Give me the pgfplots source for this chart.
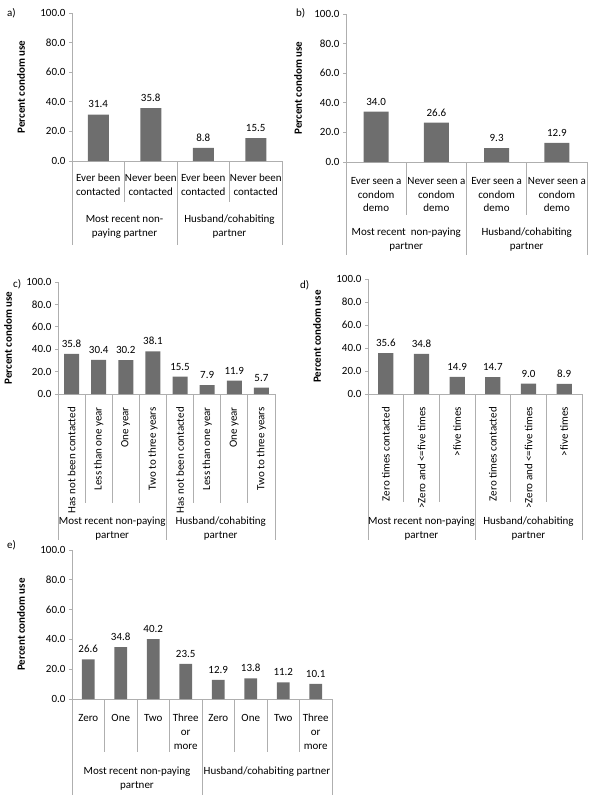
\documentclass[border=0pt]{standalone}
\usepackage{fontspec}
\setmainfont{Carlito}
\usepackage{pgfplots}
\pgfplotsset{compat=1.18}
\definecolor{barcol}{RGB}{110,110,110}
\definecolor{axcol}{RGB}{175,175,175}
\newcommand{\lf}{\fontsize{11}{13.8}\selectfont}
\pgfplotsset{
  panel/.style={
    scale only axis, anchor=south west, ybar, clip=false,
    ymin=0, ymax=100, ytick={0,20,40,60,80,100},
    axis x line*=bottom, axis y line*=left,
    axis line style={draw=axcol, line width=0.8pt},
    tick align=outside, major tick length=3pt,
    ytick style={draw=axcol, line width=0.8pt},
    xtick style={draw=none},
    /pgf/number format/assume math mode=true,
    yticklabel style={font=\lf, /pgf/number format/fixed, /pgf/number format/fixed zerofill, /pgf/number format/precision=1},
    xticklabel style={font=\lf},
    nodes near coords={\pgfmathprintnumber[fixed,fixed zerofill,precision=1,assume math mode=true]{\pgfplotspointmeta}},
    every node near coord/.append style={font=\lf, yshift=3pt},
    ylabel={Percent condom use},
    every axis y label/.style={at={(axis description cs:0,0.5)}, rotate=90, anchor=center, font=\bfseries\lf},
  },
}
\tikzset{
  sep/.style={draw=axcol, line width=0.8pt},
  lvl2/.style={anchor=north, align=center, inner sep=0pt, font=\lf},
}
\begin{document}
\begin{tikzpicture}
\useasboundingbox (0,0) rectangle (600pt,-800pt);
% panel labels
\node[anchor=west, inner sep=0pt, font=\lf] at (7pt,-13pt) {a)};
\node[anchor=west, inner sep=0pt, font=\lf] at (296pt,-13pt) {b)};
\node[anchor=west, inner sep=0pt, font=\lf] at (13pt,-284pt) {c)};
\node[anchor=west, inner sep=0pt, font=\lf] at (300pt,-285pt) {d)};
\node[anchor=west, inner sep=0pt, font=\lf] at (7pt,-545pt) {e)};

% ---------- a ----------
\begin{axis}[panel, at={(72pt,-161pt)}, width=210pt, height=148pt, bar width=21pt,
  xmin=-0.5, xmax=3.5, xtick={0,1,2,3},
  xticklabels={Ever been\\contacted, Never been\\contacted, Ever been\\contacted, Never been\\contacted},
  xticklabel style={align=center, anchor=north, inner sep=0pt}, xticklabel shift=10pt,
  ylabel style={yshift=51pt}]
\addplot[fill=barcol, draw=none] coordinates {(0,31.4) (1,35.8) (2,8.8) (3,15.5)};
\pgfplotsinvokeforeach{0.5,2.5}{\draw[sep] (axis cs:#1,0) -- ++(0pt,-41pt);}
\pgfplotsinvokeforeach{-0.5,1.5,3.5}{\draw[sep] (axis cs:#1,0) -- ++(0pt,-84pt);}
\node[lvl2, yshift=-54pt] at (axis cs:0.5,0) {Most recent non-\\paying partner};
\node[lvl2, yshift=-54pt] at (axis cs:2.5,0) {Husband/cohabiting\\partner};
\end{axis}

% ---------- b ----------
\begin{axis}[panel, at={(346pt,-162pt)}, width=241pt, height=148pt, bar width=25pt,
  xmin=-0.5, xmax=3.5, xtick={0,1,2,3},
  xticklabels={Ever seen a\\condom\\demo, Never seen a\\condom\\demo, Ever seen a\\condom\\demo, Never seen a\\condom\\demo},
  xticklabel style={align=center, anchor=north, inner sep=0pt}, xticklabel shift=12pt,
  ylabel style={yshift=48pt}]
\addplot[fill=barcol, draw=none] coordinates {(0,34.0) (1,26.6) (2,9.3) (3,12.9)};
\pgfplotsinvokeforeach{0.5,2.5}{\draw[sep] (axis cs:#1,0) -- ++(0pt,-53pt);}
\pgfplotsinvokeforeach{-0.5,1.5,3.5}{\draw[sep] (axis cs:#1,0) -- ++(0pt,-93pt);}
\node[lvl2, yshift=-66pt] at (axis cs:0.5,0) {Most recent\ \ non-paying\\partner};
\node[lvl2, yshift=-66pt] at (axis cs:2.5,0) {Husband/cohabiting\\partner};
\end{axis}

% ---------- c ----------
\begin{axis}[panel, at={(58pt,-394pt)}, width=217pt, height=112pt, bar width=15pt,
  xmin=-0.5, xmax=7.5, xtick={0,1,...,7},
  xticklabels={Has not been contacted, Less than one year, One year, Two to three years, Has not been contacted, Less than one year, One year, Two to three years},
  xticklabel style={rotate=90, anchor=east, inner sep=0pt}, xticklabel shift=10pt,
  ylabel style={yshift=50pt}]
\addplot[fill=barcol, draw=none] coordinates {(0,35.8) (1,30.4) (2,30.2) (3,38.1) (4,15.5) (5,7.9) (6,11.9) (7,5.7)};
\pgfplotsinvokeforeach{0.5,1.5,2.5,4.5,5.5,6.5}{\draw[sep] (axis cs:#1,0) -- ++(0pt,-109pt);}
\pgfplotsinvokeforeach{-0.5,3.5,7.5}{\draw[sep] (axis cs:#1,0) -- ++(0pt,-146pt);}
\node[lvl2, yshift=-123pt] at (axis cs:1.5,0) {Most recent non-paying\\partner};
\node[lvl2, yshift=-123pt] at (axis cs:5.5,0) {Husband/cohabiting\\partner};
\end{axis}

% ---------- d ----------
\begin{axis}[panel, at={(368pt,-394pt)}, width=214pt, height=115pt, bar width=15.3pt,
  xmin=-0.5, xmax=5.5, xtick={0,1,...,5},
  xticklabels={Zero times contacted, >Zero and <=five times, >five times, Zero times contacted, >Zero and <=five times, >five times},
  xticklabel style={rotate=90, anchor=east, inner sep=0pt}, xticklabel shift=10pt,
  ylabel style={yshift=51pt}]
\addplot[fill=barcol, draw=none] coordinates {(0,35.6) (1,34.8) (2,14.9) (3,14.7) (4,9.0) (5,8.9)};
\pgfplotsinvokeforeach{0.5,1.5,3.5,4.5}{\draw[sep] (axis cs:#1,0) -- ++(0pt,-108pt);}
\pgfplotsinvokeforeach{-0.5,2.5,5.5}{\draw[sep] (axis cs:#1,0) -- ++(0pt,-146pt);}
\node[lvl2, yshift=-123pt] at (axis cs:1,0) {Most recent non-paying\\partner};
\node[lvl2, yshift=-123pt] at (axis cs:4,0) {Husband/cohabiting\\partner};
\end{axis}

% ---------- e ----------
\begin{axis}[panel, at={(72pt,-699pt)}, width=260pt, height=149pt, bar width=12.7pt,
  xmin=-0.5, xmax=7.5, xtick={0,1,...,7},
  xticklabels={Zero, One, Two, Three\\or\\more, Zero, One, Two, Three\\or\\more},
  xticklabel style={align=center, anchor=north, inner sep=0pt}, xticklabel shift=12pt,
  ylabel style={yshift=51pt}]
\addplot[fill=barcol, draw=none] coordinates {(0,26.6) (1,34.8) (2,40.2) (3,23.5) (4,12.9) (5,13.8) (6,11.2) (7,10.1)};
\pgfplotsinvokeforeach{0.5,1.5,2.5,4.5,5.5,6.5}{\draw[sep] (axis cs:#1,0) -- ++(0pt,-53pt);}
\pgfplotsinvokeforeach{-0.5,3.5,7.5}{\draw[sep] (axis cs:#1,0) -- ++(0pt,-96pt);}
\node[lvl2, yshift=-68pt] at (axis cs:1.5,0) {Most recent non-paying\\partner};
\node[lvl2, yshift=-68pt] at (axis cs:5.5,0) {Husband/cohabiting partner};
\end{axis}
\end{tikzpicture}
\end{document}
